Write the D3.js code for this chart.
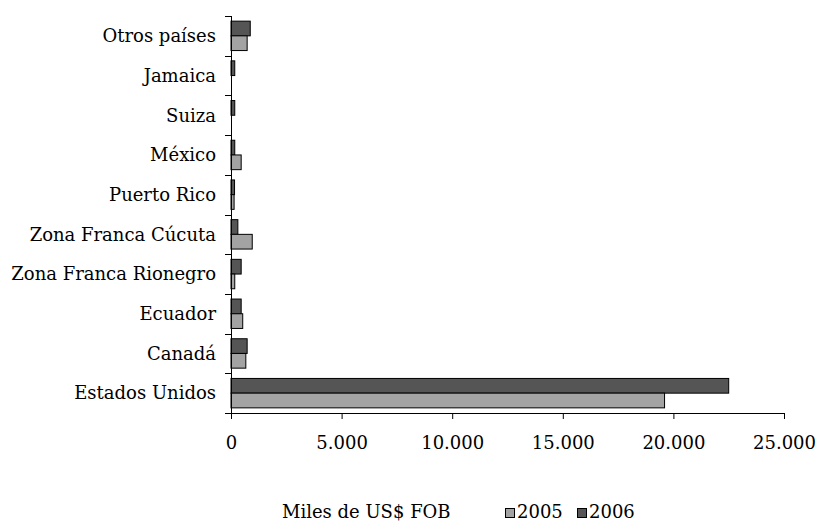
<!DOCTYPE html>
<html><head><meta charset="utf-8">
<script src="https://cdn.jsdelivr.net/npm/d3@7"></script>
<style>body{margin:0;background:#fff}svg{display:block}text{font-family:"DejaVu Serif",serif;fill:#000}</style>
</head><body>
<svg id="c" width="816" height="522"></svg>
<script>
const categories = ["Estados Unidos","Canadá","Ecuador","Zona Franca Rionegro","Zona Franca Cúcuta","Puerto Rico","México","Suiza","Jamaica","Otros países"];
const values2005 = [19600, 670, 530, 170, 960, 140, 460, 0, 0, 730];
const values2006 = [22500, 730, 460, 460, 310, 160, 170, 170, 170, 870];
const seriesNames = ["2005","2006"];
const xTicks = [0,5000,10000,15000,20000,25000];
const axisTitle = "Miles de US$ FOB";

const colors = {"2005":"#a3a3a3","2006":"#555555"};
const FS = "18px";
const svg = d3.select("#c");
const mLeft = 231, mRight = 784, mTop = 16, mBottom = 413;
const fmt = v => d3.format(",")(v).replace(/,/g, ".");

const x = d3.scaleLinear().domain([0,25000]).range([mLeft,mRight]);
const y = d3.scaleBand().domain(categories).range([mBottom, mTop]);
const inner = d3.scaleBand().domain(["2006","2005"]).range([0, y.bandwidth()]).paddingOuter(0.35).paddingInner(0);

const data = categories.map((c,i)=>({c, "2005":values2005[i], "2006":values2006[i]}));

const g = svg.append("g");
data.forEach(d=>{
  ["2006","2005"].forEach(s=>{
    if (d[s] <= 0) return;
    g.append("rect")
      .attr("x", x(0))
      .attr("y", y(d.c) + inner(s))
      .attr("width", x(d[s]) - x(0))
      .attr("height", inner.bandwidth())
      .attr("fill", colors[s])
      .attr("stroke", "#000")
      .attr("stroke-width", 1);
  });
});

// x axis
const xa = svg.append("g").attr("transform",`translate(0,${mBottom})`)
  .call(d3.axisBottom(x).tickValues(xTicks).tickFormat(fmt).tickSize(6).tickSizeOuter(0).tickPadding(17));
xa.select(".domain").attr("d", `M${mLeft-6},0.5H${mRight}`);
xa.selectAll("text").style("font-size",FS).style("font-family","DejaVu Serif");

// y axis
const yBoundaries = d3.range(categories.length+1).map(i => mTop + i*y.step());
const ya = svg.append("g").attr("transform",`translate(${mLeft},0)`);
ya.append("line").attr("x1",0.5).attr("x2",0.5).attr("y1",mTop).attr("y2",mBottom+6).attr("stroke","#000");
ya.selectAll("line.t").data(yBoundaries).join("line").attr("class","t")
  .attr("x1",-6).attr("x2",0).attr("y1",d=>Math.round(d)+0.5).attr("y2",d=>Math.round(d)+0.5).attr("stroke","#000");
ya.selectAll("text").data(categories).join("text")
  .attr("x",-15).attr("y",d=>y(d)+y.bandwidth()/2).attr("dy","0.35em")
  .attr("text-anchor","end").style("font-size",FS).text(d=>d);

// legend
const lg = svg.append("g").attr("transform","translate(0,518)");
lg.append("text").attr("x",282).attr("y",0).style("font-size",FS).text(axisTitle);
let lx = 505;
seriesNames.forEach(s=>{
  lg.append("rect").attr("x",lx+0.5).attr("y",-9.5).attr("width",9).attr("height",9).attr("fill",colors[s]).attr("stroke","#000");
  lg.append("text").attr("x",lx+12).attr("y",0).style("font-size",FS).text(s);
  lx += 72;
});
</script>
</body></html>
